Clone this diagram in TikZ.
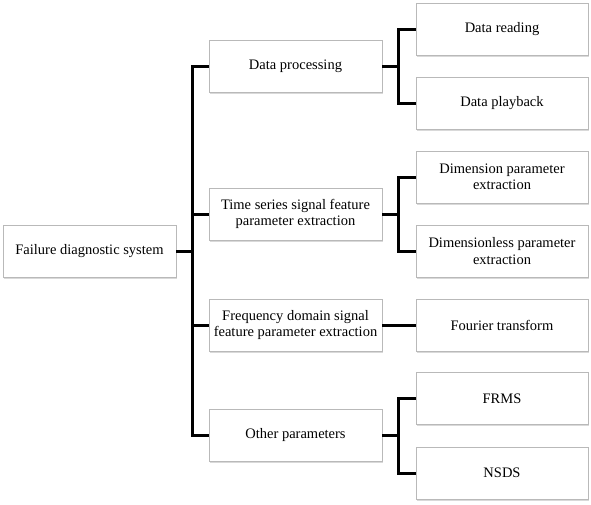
\documentclass[tikz,border=0pt]{standalone}
\usepackage{fontspec}
\setmainfont{Liberation Serif}
\usetikzlibrary{shadows}
\definecolor{boxline}{RGB}{185,185,185}
\tikzset{
  box/.style={draw=boxline, line width=0.8pt, fill=white, minimum width=173pt, minimum height=52pt,
    inner sep=2pt, align=center, font=\fontsize{14.5}{16.5}\selectfont,
    drop shadow={opacity=0.3, shadow xshift=1.2pt, shadow yshift=-1.5pt}},
  conn/.style={line width=3pt, black}
}
\begin{document}
\begin{tikzpicture}[x=1pt,y=-1pt]
\useasboundingbox (0,0) rectangle (591,504);
% nodes
\node[box] (root) at (89.5,251) {Failure diagnostic system};
\node[box] (dp) at (295.5,66) {Data processing};
\node[box] (ts) at (295.5,214) {Time series signal feature\\parameter extraction};
\node[box] (fd) at (295.5,325) {Frequency domain signal\\feature parameter extraction};
\node[box] (op) at (295.5,435.5) {Other parameters};
\node[box,minimum width=172pt] (dr) at (502,29) {Data reading};
\node[box,minimum width=172pt] (pb) at (502,103) {Data playback};
\node[box,minimum width=172pt] (dim) at (502,177) {Dimension parameter\\extraction};
\node[box,minimum width=172pt] (dl) at (502,251) {Dimensionless parameter\\extraction};
\node[box,minimum width=172pt] (ft) at (502,325) {Fourier transform};
\node[box,minimum width=172pt] (frms) at (502,398.5) {FRMS};
\node[box,minimum width=172pt] (nsds) at (502,473) {NSDS};
% junctions
\coordinate (t0) at (192,251);
\coordinate (s1) at (398.5,66);
\coordinate (s2) at (398.5,214);
\coordinate (s4) at (398.5,435.5);
% connectors
\draw[conn] (root.east) -- (t0);
\draw[conn] (dp.west) -| (t0);
\draw[conn] (ts.west) -| (t0);
\draw[conn] (fd.west) -| (t0);
\draw[conn] (op.west) -| (t0);
\draw[conn] (dp.east) -- (s1);
\draw[conn] (dr.west) -| (s1);
\draw[conn] (pb.west) -| (s1);
\draw[conn] (ts.east) -- (s2);
\draw[conn] (dim.west) -| (s2);
\draw[conn] (dl.west) -| (s2);
\draw[conn] (fd.east) -- (ft.west);
\draw[conn] (op.east) -- (s4);
\draw[conn] (frms.west) -| (s4);
\draw[conn] (nsds.west) -| (s4);
\end{tikzpicture}
\end{document}
